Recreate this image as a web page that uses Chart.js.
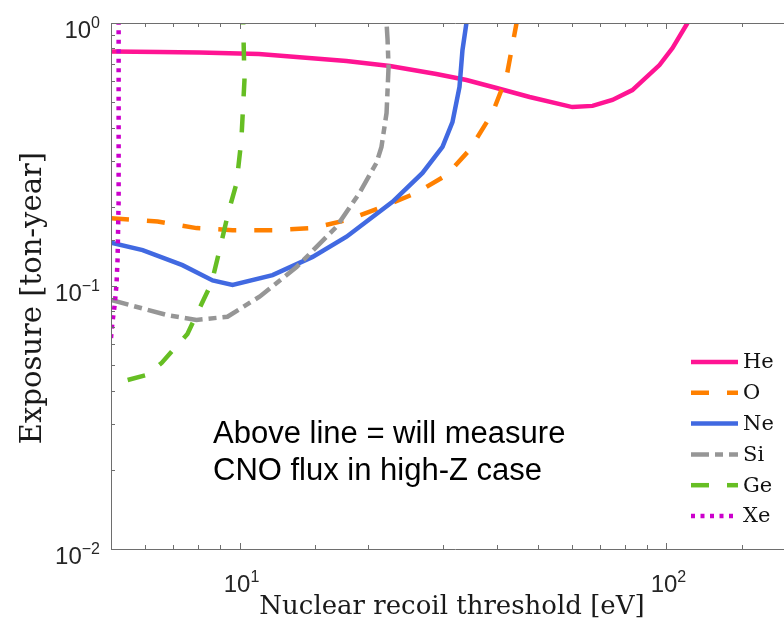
<!DOCTYPE html>
<html>
<head>
<meta charset="utf-8">
<script src="https://cdn.jsdelivr.net/npm/chart.js@4.4.1/dist/chart.umd.min.js"></script>
<style>
  html, body { margin: 0; padding: 0; background: #fff; overflow: hidden; }
  #wrap { width: 784px; height: 631px; overflow: hidden; }
</style>
</head>
<body>
<div id="wrap"><canvas id="chart" width="800" height="631"></canvas></div>
<script>
// nuclear recoil threshold [eV] vs exposure [ton-year] needed, per target
const targetNames = ['He', 'O', 'Ne', 'Si', 'Ge', 'Xe'];

const heThreshold = [5, 6.5, 8.06, 11.1, 17.8, 22.5, 28.9, 34, 40, 47.8, 60.2, 67.1, 74.7, 83.2, 96.3, 103.3, 112];
const heExposure  = [0.779, 0.776, 0.773, 0.762, 0.717, 0.686, 0.640, 0.607, 0.566, 0.523, 0.479, 0.484, 0.51, 0.556, 0.692, 0.803, 1.0];

const oThreshold = [5, 6.43, 7.93, 9.63, 11.95, 14.83, 17.81, 21.62, 25.97, 30.53, 34.56, 39.13, 42.2, 44.55];
const oExposure  = [0.181, 0.176, 0.166, 0.163, 0.163, 0.166, 0.178, 0.200, 0.226, 0.264, 0.329, 0.455, 0.623, 1.0];

const neThreshold = [5, 5.93, 7.35, 8.65, 9.63, 11.95, 14.83, 17.81, 22.82, 26.83, 29.88, 31.53, 32.75, 33.28, 34.0];
const neExposure  = [0.146, 0.137, 0.120, 0.105, 0.101, 0.110, 0.129, 0.154, 0.209, 0.269, 0.338, 0.420, 0.571, 0.789, 1.0];

const siThreshold = [5, 6.75, 7.93, 9.37, 11.14, 13.6, 16.87, 19.1, 20.93, 21.5, 22.1, 22.34, 22.22, 22.1];
const siExposure  = [0.0885, 0.0776, 0.0743, 0.0764, 0.0911, 0.118, 0.168, 0.226, 0.294, 0.338, 0.455, 0.680, 0.862, 1.0];

const geThreshold = [5.47, 6.06, 6.57, 7.55, 8.19, 8.6, 8.98, 9.42, 9.84, 10.1, 10.27, 10.2];
const geExposure  = [0.0439, 0.0459, 0.051, 0.0657, 0.0869, 0.1027, 0.137, 0.191, 0.246, 0.359, 0.607, 1.0];

const xeThreshold = [5.0, 5.04, 5.1, 5.15, 5.18, 5.21, 5.21];
const xeExposure  = [0.0634, 0.073, 0.0847, 0.101, 0.126, 0.212, 1.0];

const noteLines = ['Above line = will measure', 'CNO flux in high-Z case'];

const lineColors = ['rgb(255,20,147)', 'rgb(255,128,0)', 'rgb(65,105,225)', 'rgb(150,150,150)', 'rgb(102,190,35)', 'rgb(204,0,204)'];
const lineDashes = [[], [18, 18], [], [18, 6, 8, 6], [18, 18], [4, 5.5]];

const series = [
  [heThreshold, heExposure],
  [oThreshold, oExposure],
  [neThreshold, neExposure],
  [siThreshold, siExposure],
  [geThreshold, geExposure],
  [xeThreshold, xeExposure]
];

const serifFont = '"DejaVu Serif", serif';
const sansFont = '"Liberation Sans", Arial, sans-serif';

const isDecade = v => Math.abs(Math.log10(v) - Math.round(Math.log10(v))) < 1e-6;

// "10" with a raised exponent
function drawPower(ctx, exp, x, y, align) {
  const base = '10';
  const sup = exp < 0 ? '\u2212' + Math.abs(exp) : String(exp);
  ctx.font = '24px ' + sansFont;
  const bw = ctx.measureText(base).width;
  ctx.font = '16px ' + sansFont;
  const sw = ctx.measureText(sup).width;
  let left = align === 'right' ? x - bw - sw : x - (bw + sw) / 2;
  ctx.textAlign = 'left';
  ctx.textBaseline = 'alphabetic';
  ctx.font = '24px ' + sansFont;
  ctx.fillText(base, left, y);
  ctx.font = '16px ' + sansFont;
  ctx.fillText(sup, left + bw, y - 10);
}

const axisFrame = {
  id: 'axisFrame',
  afterDraw(chart) {
    const {ctx, chartArea: a, scales: {x, y}} = chart;
    ctx.save();
    ctx.strokeStyle = '#6e6e6e';
    ctx.lineWidth = 1;
    ctx.setLineDash([]);
    ctx.beginPath();
    ctx.moveTo(a.left + 0.5, a.top + 0.5);
    ctx.lineTo(a.left + 0.5, a.bottom + 0.5);
    ctx.moveTo(a.left, a.bottom + 0.5);
    ctx.lineTo(chart.width, a.bottom + 0.5);
    ctx.moveTo(a.left, a.top + 0.5);
    ctx.lineTo(chart.width, a.top + 0.5);
    // inward ticks on bottom, top and left
    x.ticks.forEach(t => {
      const px = Math.round(x.getPixelForValue(t.value)) + 0.5;
      const len = isDecade(t.value) ? 6 : 4;
      ctx.moveTo(px, a.bottom);
      ctx.lineTo(px, a.bottom - len);
      ctx.moveTo(px, a.top);
      ctx.lineTo(px, a.top + len);
    });
    y.ticks.forEach(t => {
      const py = Math.round(y.getPixelForValue(t.value)) + 0.5;
      const len = isDecade(t.value) ? 6 : 4;
      ctx.moveTo(a.left, py);
      ctx.lineTo(a.left + len, py);
    });
    ctx.stroke();

    // tick labels
    ctx.fillStyle = '#262626';
    x.ticks.forEach(t => {
      if (!isDecade(t.value)) return;
      drawPower(ctx, Math.round(Math.log10(t.value)), x.getPixelForValue(t.value) + 2, a.bottom + 43, 'center');
    });
    y.ticks.forEach(t => {
      if (!isDecade(t.value)) return;
      drawPower(ctx, Math.round(Math.log10(t.value)), 100, y.getPixelForValue(t.value) + 15, 'right');
    });

    // axis titles
    ctx.fillStyle = '#1a1a1a';
    ctx.font = '26px ' + serifFont;
    ctx.textAlign = 'center';
    ctx.textBaseline = 'alphabetic';
    ctx.fillText('Nuclear recoil threshold [eV]', 452, 614);
    ctx.save();
    ctx.translate(41, 298);
    ctx.rotate(-Math.PI / 2);
    ctx.font = '29px ' + serifFont;
    ctx.fillText('Exposure [ton-year]', 0, 0);
    ctx.restore();

    // legend
    chart.data.datasets.forEach((ds, i) => {
      const ly = 362 + i * 30.8;
      ctx.strokeStyle = ds.borderColor;
      ctx.lineWidth = ds.borderWidth;
      ctx.lineCap = 'butt';
      ctx.setLineDash(ds.borderDash);
      ctx.beginPath();
      ctx.moveTo(691, ly);
      ctx.lineTo(738, ly);
      ctx.stroke();
      ctx.setLineDash([]);
      ctx.fillStyle = '#111';
      ctx.font = '21px ' + serifFont;
      ctx.textAlign = 'left';
      ctx.textBaseline = 'middle';
      ctx.fillText(ds.label, 743, ly + 1);
    });

    // note inside the plot
    ctx.fillStyle = '#000';
    ctx.font = '31px ' + sansFont;
    ctx.textAlign = 'left';
    ctx.textBaseline = 'alphabetic';
    noteLines.forEach((line, i) => ctx.fillText(line, 213, 443 + i * 37));
    ctx.restore();
  }
};

const datasets = series.map(([xs, ys], i) => ({
  label: targetNames[i],
  data: xs.map((v, k) => ({x: v, y: ys[k]})),
  borderColor: lineColors[i],
  borderDash: lineDashes[i],
  borderWidth: 4.5,
  borderCapStyle: 'butt',
  pointRadius: 0,
  tension: 0,
  fill: false,
  order: series.length - i
}));

new Chart(document.getElementById('chart'), {
  type: 'line',
  data: {datasets},
  options: {
    responsive: false,
    animation: false,
    devicePixelRatio: 1,
    layout: {padding: {top: 23, right: 5, left: 0, bottom: 0}},
    plugins: {legend: {display: false}, tooltip: {enabled: false}},
    scales: {
      x: {
        type: 'logarithmic',
        min: 5,
        max: 200,
        grid: {display: false},
        border: {display: false},
        ticks: {display: false},
        afterFit(scale) { scale.height = 82; }
      },
      y: {
        type: 'logarithmic',
        min: 0.01,
        max: 1,
        grid: {display: false},
        border: {display: false},
        ticks: {display: false},
        afterFit(scale) { scale.width = 111; }
      }
    }
  },
  plugins: [axisFrame]
});
</script>
</body>
</html>
